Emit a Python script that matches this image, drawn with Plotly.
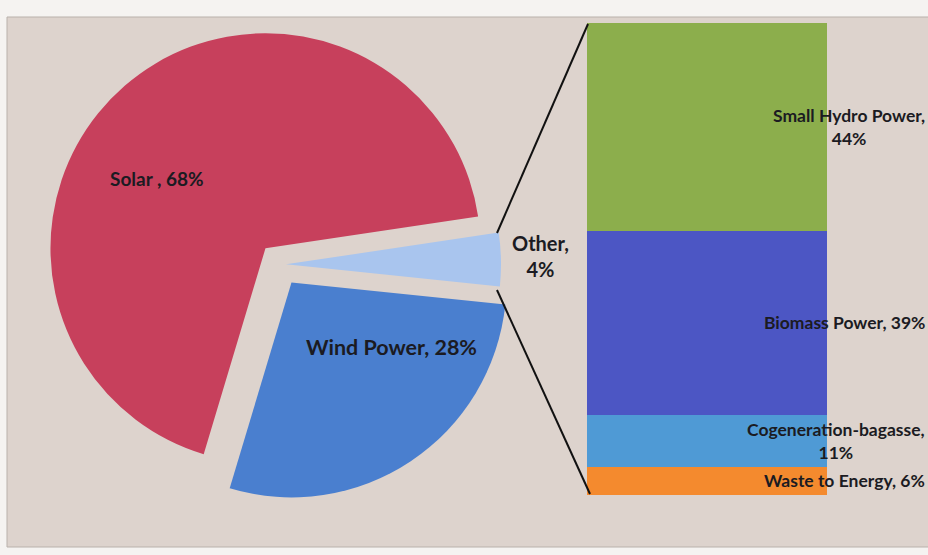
import plotly.graph_objects as go

# Pie data
pie_labels = ["Other", "Wind Power", "Solar "]
pie_values = [4, 28, 68]
pie_colors = ["#a9c5ee", "#4a7fcf", "#c7405c"]
pie_pull = [0.03, 0.1, 0.1]

# Bar (breakdown of "Other")
bar_labels = ["Waste to Energy", "Cogeneration-bagasse", "Biomass Power", "Small Hydro Power"]
bar_values = [6, 11, 39, 44]
bar_colors = ["#f48a2e", "#4f9ad5", "#4c56c4", "#8cae4c"]
bar_text = ["Waste to Energy, 6%", "Cogeneration-bagasse,<br>11%", "Biomass Power, 39%", "Small Hydro Power,<br>44%"]

W, H = 928, 555
def px(x): return x / W
def py(y): return 1 - y / H

fig = go.Figure()

fig.add_trace(go.Pie(
    labels=pie_labels, values=pie_values, sort=False, direction="clockwise",
    rotation=81.5, pull=pie_pull, textinfo="none", hoverinfo="label+percent",
    marker=dict(colors=pie_colors, line=dict(width=0)),
    domain=dict(x=[px(42), px(517.1)], y=[py(501), py(28)]),
    showlegend=False,
))

for lab, val, col in zip(bar_labels, bar_values, bar_colors):
    fig.add_trace(go.Bar(
        x=["Other"], y=[val], name=lab, marker=dict(color=col, line=dict(width=0)),
        xaxis="x", yaxis="y", showlegend=False, width=1,
    ))

font_family = "Lato, Open Sans, sans-serif"
annotations = [
    dict(text="Solar , 68%", x=px(157), y=py(178), size=19),
    dict(text="Wind Power, 28%", x=px(391), y=py(347), size=21.5),
    dict(text="Other,<br>4%", x=px(540), y=py(256), size=20),
]
ann = []
for a in annotations:
    ann.append(dict(text=a["text"], x=a["x"], y=a["y"], xref="paper", yref="paper",
                    showarrow=False, xanchor="center", yanchor="middle",
                    font=dict(family=font_family, size=a["size"], color="#1b1b22", weight="bold")))

# bar segment labels, placed at segment centres through the bar's y axis
cum = 0
for val, txt in zip(bar_values, bar_text):
    mid = cum + val / 2
    cum += val
    ann.append(dict(text=txt, x=px(927), xref="paper", y=mid, yref="y",
                    showarrow=False, xanchor="right", yanchor="middle", align="center",
                    font=dict(family=font_family, size=17.5, color="#1b1b22", weight="bold")))

shapes = [
    dict(type="rect", xref="paper", yref="paper", x0=px(7), x1=px(935), y0=py(547), y1=py(17),
         fillcolor="#ddd3cd", line=dict(color="#b9b1ab", width=1), layer="below"),
    dict(type="line", xref="paper", yref="paper", x0=px(497), y0=py(233), x1=px(588), y1=py(24),
         line=dict(color="#111111", width=2)),
    dict(type="line", xref="paper", yref="paper", x0=px(497), y0=py(290), x1=px(590), y1=py(494),
         line=dict(color="#111111", width=2)),
]

fig.update_layout(
    width=W, height=H, margin=dict(l=0, r=0, t=0, b=0),
    paper_bgcolor="#f5f3f1", plot_bgcolor="rgba(0,0,0,0)",
    barmode="stack", bargap=0,
    xaxis=dict(domain=[px(587), px(827)], range=[-0.5, 0.5], visible=False, fixedrange=True),
    yaxis=dict(domain=[py(495), py(23)], range=[0, 100], visible=False, fixedrange=True),
    annotations=ann, shapes=shapes,
)

fig.write_html("out.html", config=dict(displayModeBar=False),
               post_script="document.body.style.margin='0';document.body.style.overflow='hidden';")
